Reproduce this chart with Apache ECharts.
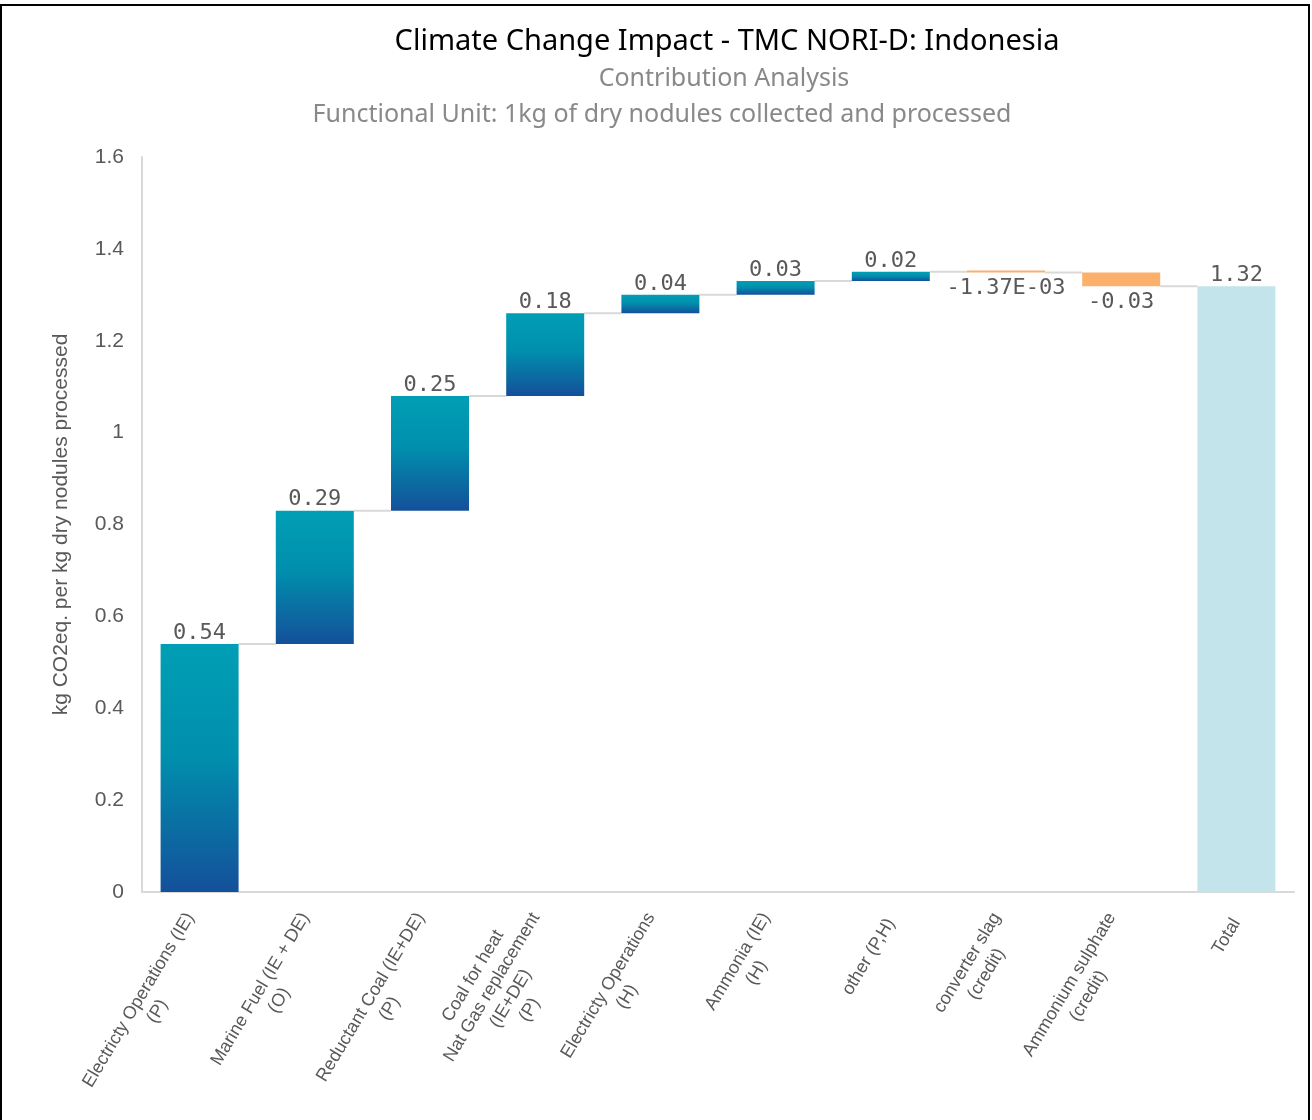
<!DOCTYPE html>
<html>
<head>
<meta charset="utf-8">
<script src="https://cdn.jsdelivr.net/npm/echarts@6/dist/echarts.min.js"></script>
<style>
html, body { margin: 0; padding: 0; background: #fff; }
#chart { width: 1312px; height: 1120px; }
</style>
</head>
<body>
<div id="chart"></div>
<script>
// categories and contributions (kg CO2eq.)
const categories = [
  'Electricty Operations (IE)\n(P)',
  'Marine Fuel (IE + DE)\n(O)',
  'Reductant Coal (IE+DE)\n(P)',
  'Coal for heat\nNat Gas replacement\n(IE+DE)\n(P)',
  'Electricty Operations\n(H)',
  'Ammonia (IE)\n(H)',
  'other (P,H)',
  'converter slag\n(credit)',
  'Ammonium sulphate\n(credit)',
  'Total'
]
const deltas = [0.54, 0.29, 0.25, 0.18, 0.04, 0.03, 0.02, -0.00137, -0.03]
const yTicks = [0, 0.2, 0.4, 0.6, 0.8, 1, 1.2, 1.4, 1.6]

function fmt(v) {
  if (Math.abs(v) < 0.01) {
    const [m, e] = v.toExponential(2).split('e')
    const n = Math.abs(+e)
    return m + 'E' + (+e < 0 ? '-' : '+') + (n < 10 ? '0' + n : n)
  }
  return v.toFixed(2)
}

// build waterfall pieces
let cum = 0
const base = [], rise = [], fall = [], total = [], levels = []
deltas.forEach((d, i) => {
  const next = cum + d
  base.push(Math.min(cum, next))
  rise.push(d >= 0 ? d : '-')
  fall.push(d < 0 ? -d : '-')
  total.push('-')
  levels.push([i, next])
  cum = next
})
base.push(0)
rise.push('-')
fall.push('-')
total.push(cum)

const BAR_W = 78
const grad = new echarts.graphic.LinearGradient(0, 0, 0, 1, [
  { offset: 0, color: '#009fb5' },
  { offset: 0.45, color: '#008fad' },
  { offset: 1, color: '#14509a' }
])
const labelFont = {
  fontFamily: 'DejaVu Sans Mono',
  fontSize: 22,
  color: '#595959'
}

const chart = echarts.init(document.getElementById('chart'))
chart.setOption({
  animation: false,
  title: [
    {
      text: 'Climate Change Impact - TMC NORI-D: Indonesia',
      left: 722, top: 22, textAlign: 'center',
      textStyle: { fontFamily: 'Noto Sans', fontSize: 29, fontWeight: 'normal', color: '#000' }
    },
    {
      text: 'Contribution Analysis',
      left: 719, top: 61, textAlign: 'center',
      textStyle: { fontFamily: 'Noto Sans', fontSize: 25, fontWeight: 'normal', color: '#898989' }
    },
    {
      text: 'Functional Unit: 1kg of dry nodules collected and processed',
      left: 657, top: 97, textAlign: 'center',
      textStyle: { fontFamily: 'Noto Sans', fontSize: 25, fontWeight: 'normal', color: '#898989' }
    }
  ],
  graphic: [{
    type: 'rect',
    shape: { x: 1, y: 5, width: 1308, height: 1120 },
    style: { fill: 'none', stroke: '#000', lineWidth: 2 },
    silent: true
  }],
  grid: { left: 142, right: 18, top: 157, bottom: 228 },
  xAxis: {
    type: 'category',
    data: categories,
    axisLine: { lineStyle: { color: '#d9d9d9', width: 2 } },
    axisTick: { show: false },
    axisLabel: {
      interval: 0,
      rotate: 59,
      margin: 28,
      fontFamily: 'Liberation Sans',
      fontSize: 18,
      lineHeight: 22,
      color: '#595959',
      formatter: v => v.split('\n').map(s => '{c|' + s + '}').join('\n'),
      rich: { c: { align: 'center', fontFamily: 'Liberation Sans', fontSize: 18, lineHeight: 22, color: '#595959' } }
    }
  },
  yAxis: {
    type: 'value',
    min: 0,
    max: 1.6,
    interval: 0.2,
    name: 'kg CO2eq. per kg dry nodules processed',
    nameLocation: 'middle',
    nameGap: 70,
    nameTextStyle: { fontFamily: 'Liberation Sans', fontSize: 21, color: '#595959' },
    axisLine: { show: true, lineStyle: { color: '#d9d9d9', width: 2 } },
    axisTick: { show: false },
    splitLine: { show: false },
    axisLabel: {
      margin: 18,
      fontFamily: 'Liberation Sans',
      fontSize: 21,
      color: '#595959',
      formatter: v => String(yTicks.find(t => Math.abs(t - v) < 1e-9) ?? v)
    }
  },
  series: [
    {
      type: 'custom',
      z: 1,
      silent: true,
      data: levels,
      renderItem: (params, api) => {
        const p1 = api.coord([api.value(0), api.value(1)])
        const p2 = api.coord([api.value(0) + 1, api.value(1)])
        return {
          type: 'line',
          shape: { x1: p1[0] + BAR_W / 2, y1: p1[1], x2: p2[0] - BAR_W / 2, y2: p2[1] },
          style: { stroke: '#d9d9d9', lineWidth: 2 }
        }
      }
    },
    {
      name: 'base', type: 'bar', stack: 'w', barWidth: BAR_W, z: 2,
      itemStyle: { color: 'transparent' },
      silent: true,
      data: base
    },
    {
      name: 'rise', type: 'bar', stack: 'w', barWidth: BAR_W, z: 2,
      itemStyle: { color: grad },
      label: { show: true, position: 'top', distance: 0, ...labelFont, formatter: p => fmt(p.value) },
      data: rise
    },
    {
      name: 'fall', type: 'bar', stack: 'w', barWidth: BAR_W, z: 2,
      barMinHeight: 2,
      itemStyle: { color: '#fbb06c' },
      label: { show: true, position: 'bottom', distance: 5, ...labelFont, formatter: p => fmt(-p.value) },
      data: fall
    },
    {
      name: 'total', type: 'bar', stack: 'w', barWidth: BAR_W, z: 2,
      itemStyle: { color: '#c2e4ea' },
      label: { show: true, position: 'top', distance: 0, ...labelFont, formatter: p => fmt(p.value) },
      data: total
    }
  ]
})
</script>
</body>
</html>
